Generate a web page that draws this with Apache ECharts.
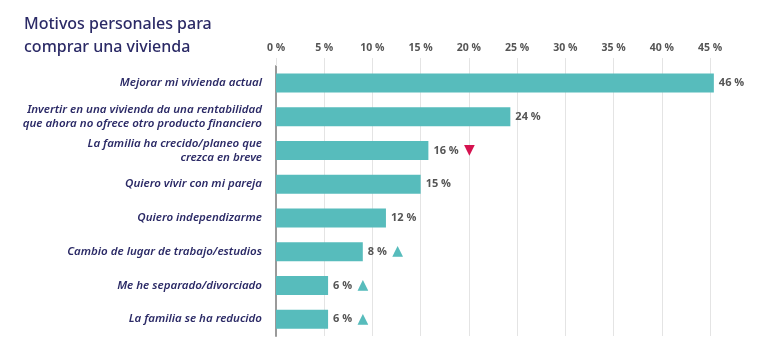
<!DOCTYPE html>
<html>
<head>
<meta charset="utf-8">
<script src="https://cdn.jsdelivr.net/npm/echarts@6/dist/echarts.min.js"></script>
<style>html,body{margin:0;padding:0;background:#fff}#c{width:768px;height:358px}</style>
</head>
<body>
<div id="c"></div>
<script>
const categories = [
  'Mejorar mi vivienda actual',
  'Invertir en una vivienda da una rentabilidad\nque ahora no ofrece otro producto financiero',
  'La familia ha crecido/planeo que\ncrezca en breve',
  'Quiero vivir con mi pareja',
  'Quiero independizarme',
  'Cambio de lugar de trabajo/estudios',
  'Me he separado/divorciado',
  'La familia se ha reducido'
];
const barValues = [45.4, 24.3, 15.8, 15.0, 11.4, 9.0, 5.4, 5.4];
const valueLabels = [46, 24, 16, 15, 12, 8, 6, 6];
const trends = ['', '', 'down', '', '', 'up', 'up', 'up'];
const axisMin = 0, axisMax = 45, axisInterval = 5;

const chart = echarts.init(document.getElementById('c'));
chart.setOption({
  backgroundColor: '#ffffff',
  animation: false,
  title: {
    text: 'Motivos personales para\ncomprar una vivienda',
    left: 19, top: 8,
    textStyle: { fontFamily: 'Noto Sans', fontSize: 16, fontWeight: 500, color: '#2b2a66', lineHeight: 23 }
  },
  grid: { left: 276, right: 58, top: 66, height: 270 },
  xAxis: {
    type: 'value', position: 'top', min: axisMin, max: axisMax, interval: axisInterval,
    axisLine: { show: false },
    axisTick: { show: true, length: 8, lineStyle: { color: '#e4e4e4' } },
    splitLine: { show: true, lineStyle: { color: '#e4e4e4', width: 1 } },
    axisLabel: { margin: 12, formatter: v => v + ' %', fontFamily: 'Open Sans', fontSize: 10.5, fontWeight: 'bold', color: '#555555' }
  },
  yAxis: {
    type: 'category', inverse: true, data: categories,
    axisLine: { show: true, lineStyle: { color: '#9a9a9a', width: 2 } },
    axisTick: { show: false },
    axisLabel: { margin: 14, fontFamily: 'Noto Sans', fontStyle: 'italic', fontWeight: 600, fontSize: 11.5, lineHeight: 14, color: '#2b2a66', align: 'right' }
  },
  series: [{
    type: 'bar', data: barValues, barWidth: 19, clip: false,
    itemStyle: { color: '#57bcbc' },
    label: {
      show: true, position: 'right', distance: 5,
      formatter: p => {
        const t = trends[p.dataIndex];
        let s = '{v|' + valueLabels[p.dataIndex] + ' %}';
        if (t === 'up') s += ' {up|▲}';
        if (t === 'down') s += ' {dn|▼}';
        return s;
      },
      rich: {
        v: { fontFamily: 'Open Sans', fontSize: 11, fontWeight: 'bold', color: '#555555' },
        up: { fontFamily: 'DejaVu Sans', fontSize: 14, color: '#57bcbc', padding: [0, 0, 0, 2] },
        dn: { fontFamily: 'DejaVu Sans', fontSize: 14, color: '#d5124f', padding: [0, 0, 0, 2] }
      }
    }
  }]
});
</script>
</body>
</html>
